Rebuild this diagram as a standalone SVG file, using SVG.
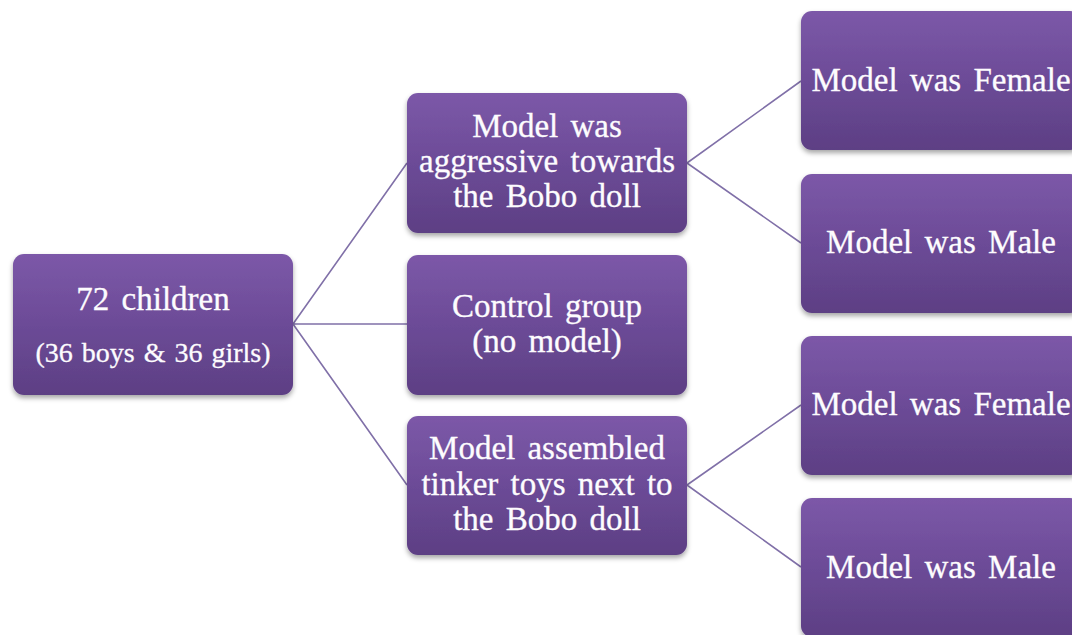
<svg xmlns="http://www.w3.org/2000/svg" width="1072" height="635" viewBox="0 0 1072 635">
<defs>
<linearGradient id="g" x1="0" y1="0" x2="0" y2="1">
<stop offset="0" stop-color="#7c58a8"/>
<stop offset="0.5" stop-color="#6c4b97"/>
<stop offset="1" stop-color="#5d3f84"/>
</linearGradient>
<filter id="sh" x="-10%" y="-10%" width="120%" height="130%">
<feDropShadow dx="0" dy="3" stdDeviation="2.5" flood-color="#000" flood-opacity="0.35"/>
</filter>
</defs>
<style>
.box{fill:url(#g);filter:url(#sh)}
.t{fill:#fdfcfe;stroke:#fdfcfe;stroke-width:0.3px;text-anchor:middle;font-size:33px;word-spacing:4px;font-family:'Liberation Serif','Times New Roman',serif}
.s{font-size:28px;word-spacing:2px}
.c{stroke:#8070a8;stroke-width:1.6;fill:none}
</style>
<rect width="1072" height="635" fill="#fff"/>
<g id="connectors">
<path class="c" d="M293 324 L407 163 M293 324 L407 324 M293 324 L407 485 M687 163 L801 81 M687 163 L801 243 M687 485 L801 405 M687 485 L801 567"/>
</g>
<g id="root">
<rect class="box" x="13" y="254" width="280" height="141" rx="11"/>
<text class="t" x="153" y="310">72 children</text>
<text class="t s" x="153" y="362">(36 boys  &amp; 36 girls)</text>
</g>
<g id="aggressive">
<rect class="box" x="407" y="93" width="280" height="140" rx="11"/>
<text class="t" x="547" y="137">Model was</text>
<text class="t" x="547" y="172">aggressive towards</text>
<text class="t" x="547" y="207">the Bobo doll</text>
</g>
<g id="control">
<rect class="box" x="407" y="255" width="280" height="140" rx="11"/>
<text class="t" x="547" y="317">Control group</text>
<text class="t" x="547" y="352">(no model)</text>
</g>
<g id="tinker">
<rect class="box" x="407" y="416" width="280" height="139" rx="11"/>
<text class="t" x="547" y="459">Model assembled</text>
<text class="t" x="547" y="495">tinker toys next to</text>
<text class="t" x="547" y="530">the Bobo doll</text>
</g>
<g id="female1">
<rect class="box" x="801" y="11" width="280" height="139" rx="11"/>
<text class="t" x="941" y="91">Model was Female</text>
</g>
<g id="male1">
<rect class="box" x="801" y="174" width="280" height="139" rx="11"/>
<text class="t" x="941" y="253">Model was Male</text>
</g>
<g id="female2">
<rect class="box" x="801" y="336" width="280" height="139" rx="11"/>
<text class="t" x="941" y="415">Model was Female</text>
</g>
<g id="male2">
<rect class="box" x="801" y="498" width="280" height="139" rx="11"/>
<text class="t" x="941" y="578">Model was Male</text>
</g>
</svg>
